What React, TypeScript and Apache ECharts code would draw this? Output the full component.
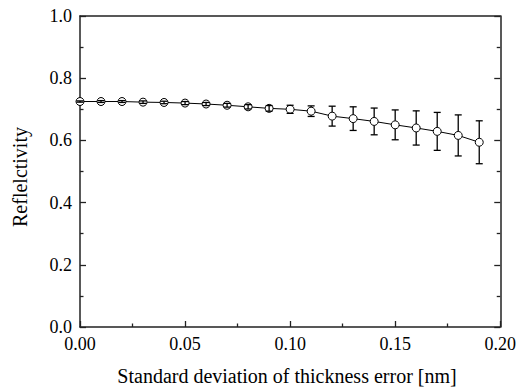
import React, { useEffect, useRef } from "react";
import * as echarts from "echarts";

const xValues = [0, 0.01, 0.02, 0.03, 0.04, 0.05, 0.06, 0.07, 0.08, 0.09, 0.1, 0.11, 0.12, 0.13, 0.14, 0.15, 0.16, 0.17, 0.18, 0.19];
const reflectivity = [0.725, 0.725, 0.725, 0.723, 0.722, 0.72, 0.717, 0.713, 0.708, 0.703, 0.7, 0.694, 0.678, 0.67, 0.661, 0.65, 0.64, 0.629, 0.616, 0.594];
const errors = [0.002, 0.003, 0.003, 0.004, 0.004, 0.005, 0.005, 0.006, 0.007, 0.009, 0.013, 0.017, 0.032, 0.038, 0.043, 0.048, 0.055, 0.061, 0.066, 0.069];
const xTickLabels = ["0.00", "0.05", "0.10", "0.15", "0.20"];
const yTickLabels = ["0.0", "0.2", "0.4", "0.6", "0.8", "1.0"];
const xTitle = "Standard deviation of thickness error [nm]";
const yTitle = "Reflelctivity";

const FONT = "'Liberation Serif', 'Times New Roman', serif";
const AXIS_COLOR = "#222";

export default function App() {
  const ref = useRef<HTMLDivElement>(null);
  useEffect(() => {
    document.body.style.margin = "0";
    if (!ref.current) return;
    const chart = echarts.init(ref.current, null, { renderer: "svg" });
    const lineData = xValues.map((x, i) => [x, reflectivity[i]]);
    const errData = xValues.map((x, i) => [x, reflectivity[i], errors[i]]);
    const R = 4;
    const CAP = 3.5;
    const tickStyle = { show: true, inside: true, length: 6, lineStyle: { color: AXIS_COLOR, width: 1.3 } };
    const minorStyle = { show: true, splitNumber: 2, length: 3.5, lineStyle: { color: AXIS_COLOR, width: 1.3 } };
    const axisLine = { show: true, onZero: false, lineStyle: { color: AXIS_COLOR, width: 1.5 } };
    chart.setOption({
      animation: false,
      backgroundColor: "#fff",
      grid: { left: 80, right: 17, top: 16, bottom: 62 },
      graphic: [
        {
          type: "text",
          x: 287,
          y: 376,
          style: {
            text: xTitle,
            fill: "#000",
            font: `20px ${FONT}`,
            align: "center",
            verticalAlign: "middle",
          },
        },
        {
          type: "text",
          x: 20,
          y: 177,
          rotation: Math.PI / 2,
          style: {
            text: yTitle,
            fill: "#000",
            font: `20px ${FONT}`,
            align: "center",
            verticalAlign: "middle",
          },
        },
      ],
      xAxis: [
        {
          type: "value",
          min: 0,
          max: 0.2,
          interval: 0.05,
          position: "bottom",
          axisLine,
          axisTick: tickStyle,
          minorTick: minorStyle,
          splitLine: { show: false },
          axisLabel: {
            color: "#000",
            fontFamily: FONT,
            fontSize: 18,
            margin: 8,
            formatter: (v: number) => xTickLabels[Math.round(v / 0.05)] ?? "",
          },
        },
        {
          type: "value",
          min: 0,
          max: 0.2,
          interval: 0.05,
          position: "top",
          axisLine,
          axisTick: { show: false },
          axisLabel: { show: false },
          splitLine: { show: false },
        },
      ],
      yAxis: [
        {
          type: "value",
          min: 0,
          max: 1,
          interval: 0.2,
          position: "left",
          axisLine,
          axisTick: tickStyle,
          minorTick: minorStyle,
          splitLine: { show: false },
          axisLabel: {
            color: "#000",
            fontFamily: FONT,
            fontSize: 18,
            margin: 8,
            formatter: (v: number) => yTickLabels[Math.round(v / 0.2)] ?? "",
          },
        },
        {
          type: "value",
          min: 0,
          max: 1,
          interval: 0.2,
          position: "right",
          axisLine,
          axisTick: tickStyle,
          minorTick: minorStyle,
          splitLine: { show: false },
          axisLabel: { show: false },
        },
      ],
      series: [
        {
          type: "line",
          data: lineData,
          xAxisIndex: 0,
          yAxisIndex: 0,
          symbol: "circle",
          symbolSize: 8,
          showSymbol: true,
          lineStyle: { color: "#000", width: 1 },
          itemStyle: { color: "#fff", borderColor: "#000", borderWidth: 1 },
          z: 2,
        },
        {
          type: "custom",
          xAxisIndex: 0,
          yAxisIndex: 0,
          data: errData,
          encode: { x: 0, y: 1 },
          z: 3,
          renderItem: (params: any, api: any) => {
            const x = api.value(0);
            const y = api.value(1);
            const e = api.value(2);
            const c = api.coord([x, y]);
            const t = api.coord([x, y + e]);
            const b = api.coord([x, y - e]);
            const style = { stroke: "#000", lineWidth: 1.3 };
            const children: any[] = [];
            const dy = c[1] - t[1];
            if (dy > R) {
              children.push({ type: "line", shape: { x1: c[0], y1: t[1], x2: c[0], y2: c[1] - R }, style });
              children.push({ type: "line", shape: { x1: c[0], y1: c[1] + R, x2: c[0], y2: b[1] }, style });
            } else {
              children.push({ type: "line", shape: { x1: c[0], y1: t[1], x2: c[0], y2: b[1] }, style });
            }
            children.push({ type: "line", shape: { x1: c[0] - CAP, y1: t[1], x2: c[0] + CAP, y2: t[1] }, style });
            children.push({ type: "line", shape: { x1: c[0] - CAP, y1: b[1], x2: c[0] + CAP, y2: b[1] }, style });
            return { type: "group", children };
          },
        },
      ],
    });
    return () => chart.dispose();
  }, []);
  return <div ref={ref} style={{ width: 519, height: 389 }} />;
}
